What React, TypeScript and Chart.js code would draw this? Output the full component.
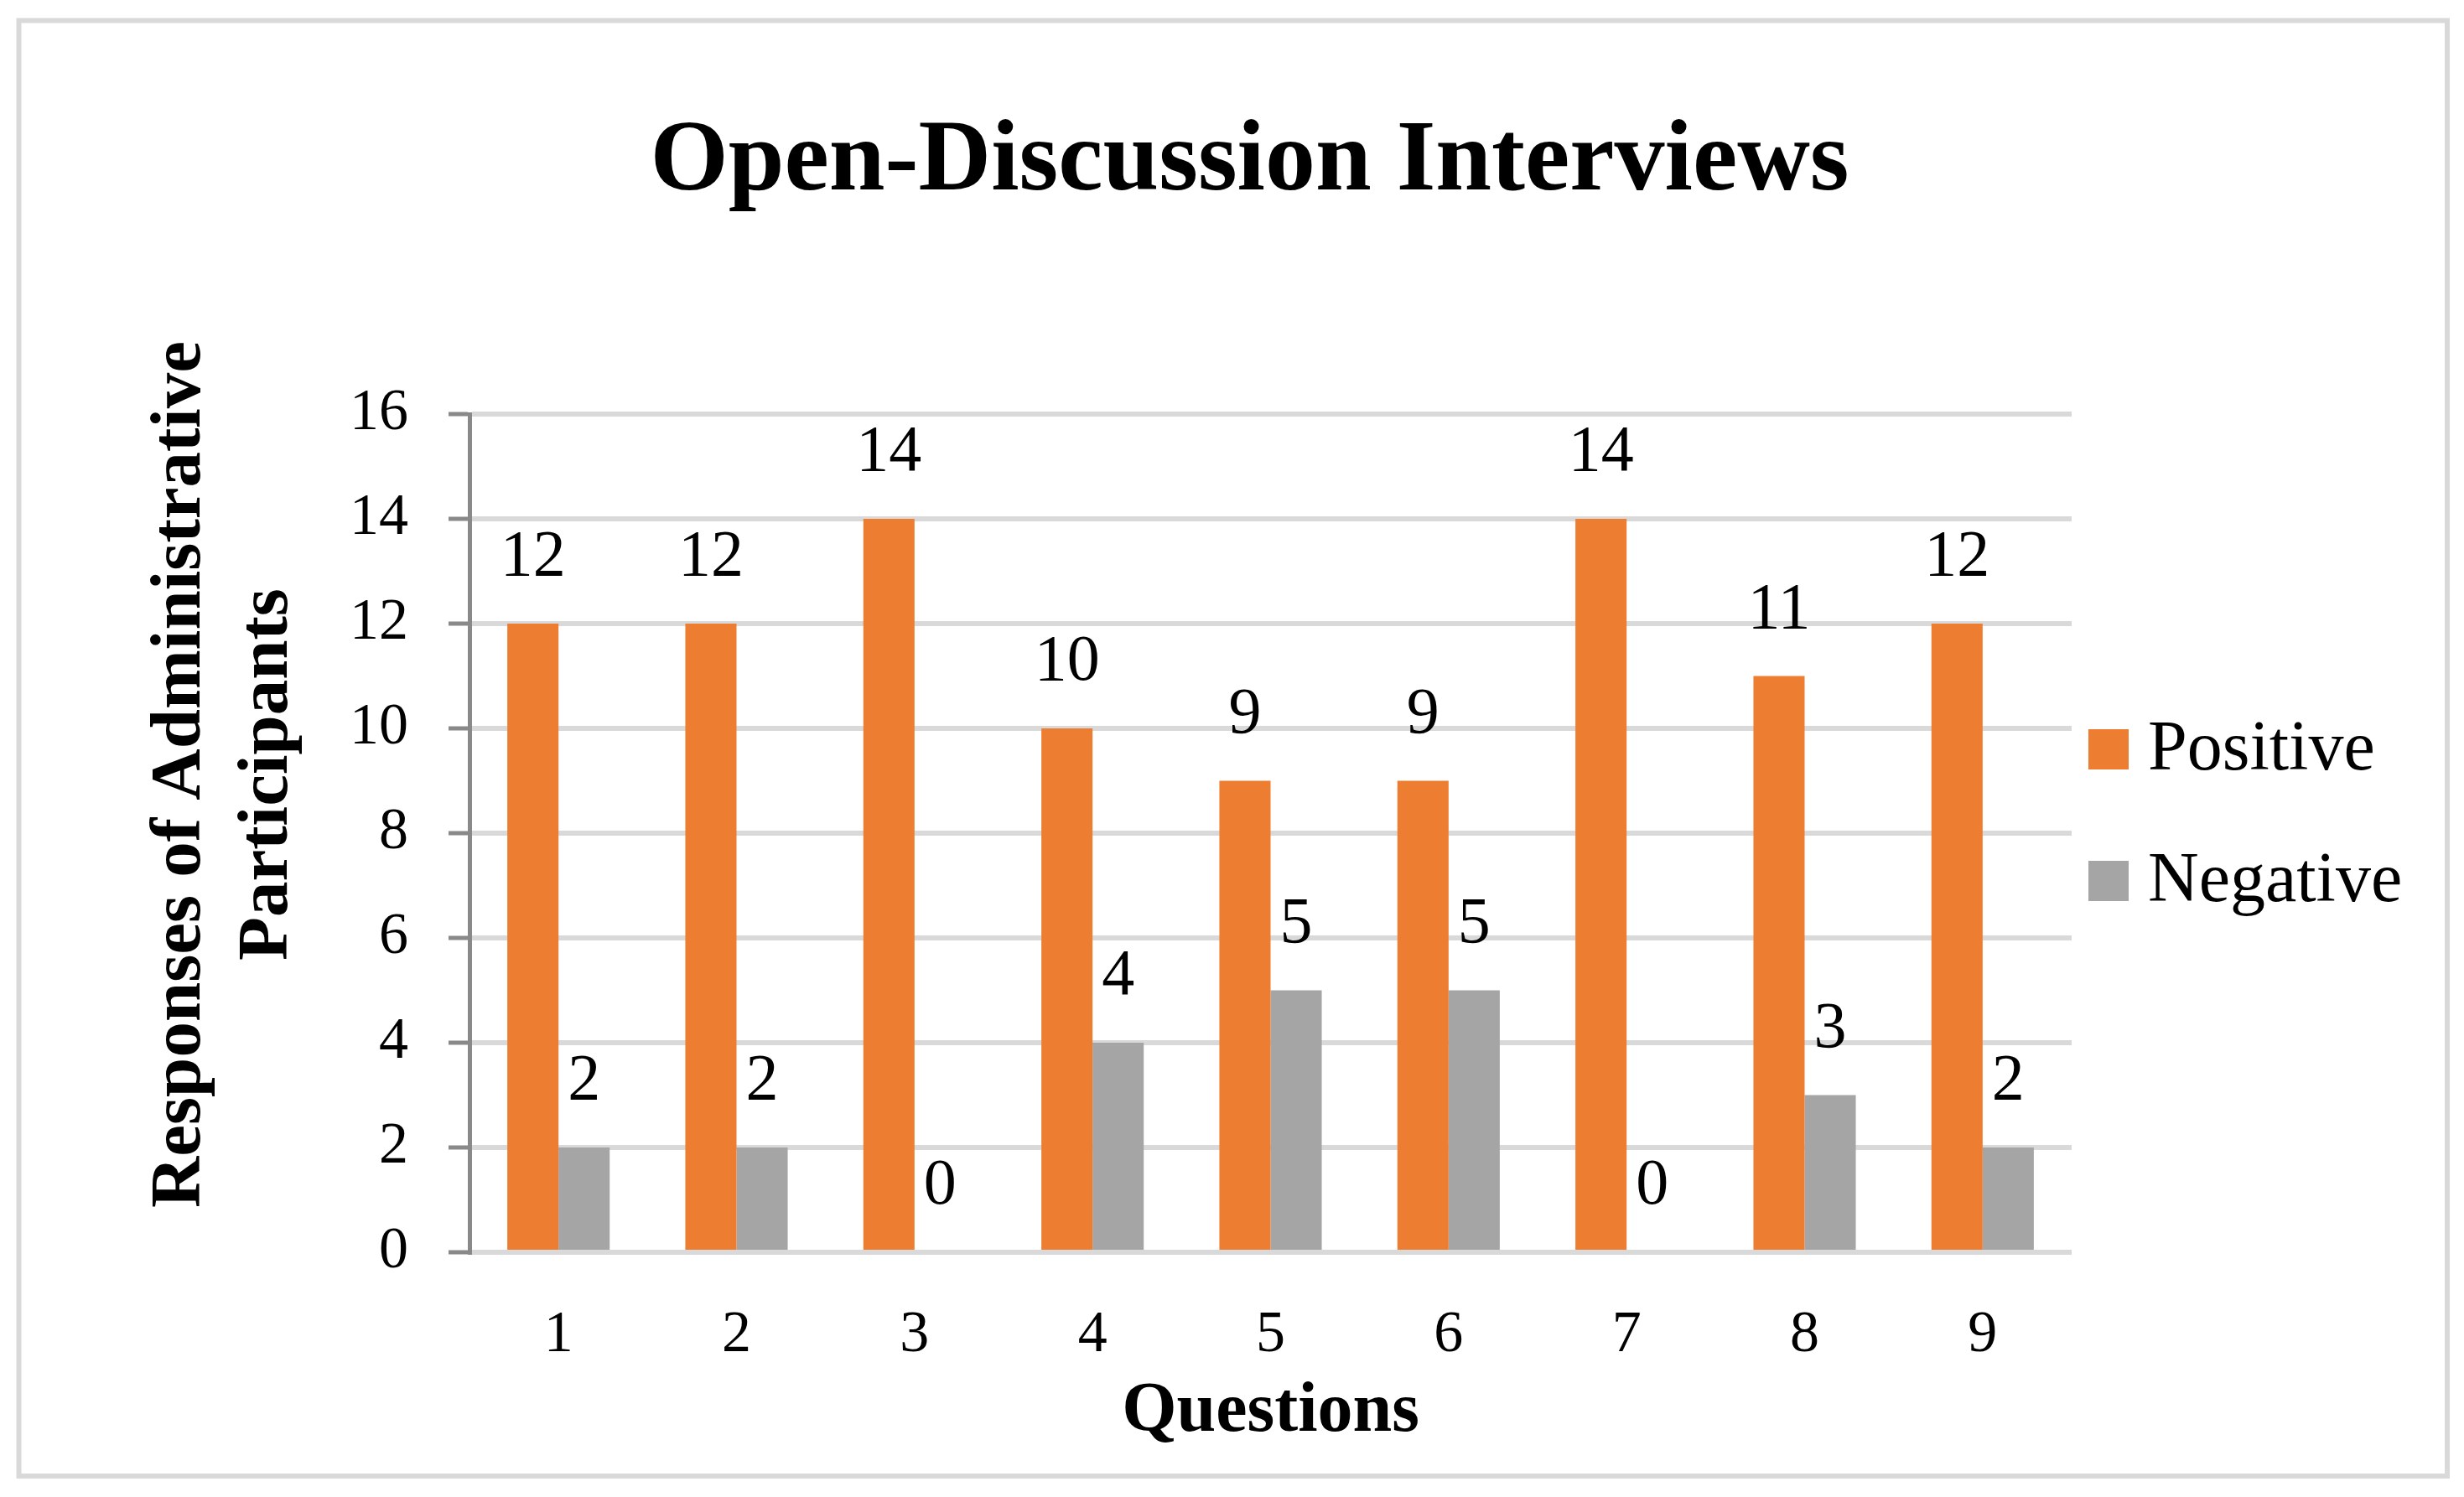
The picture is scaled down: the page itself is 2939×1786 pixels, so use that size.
import React, { useEffect, useRef } from 'react';
import { Chart, registerables } from 'chart.js';

Chart.register(...registerables);

// ---- data ----
const categories = ['1', '2', '3', '4', '5', '6', '7', '8', '9'];
const positiveValues = [12, 12, 14, 10, 9, 9, 14, 11, 12];
const negativeValues = [2, 2, 0, 4, 5, 5, 0, 3, 2];
const seriesNames = ['Positive', 'Negative'];
const seriesColors = ['#ED7D31', '#A5A5A5'];
const yMin = 0;
const yMax = 16;
const yStep = 2;
const chartTitle = 'Open-Discussion Interviews';
const xAxisTitle = 'Questions';
const yAxisTitleLines = ['Responses of Administrative', 'Participants'];

const FONT = "'Liberation Serif', 'Times New Roman', serif";

const framePlugin = {
  id: 'frame',
  beforeDraw(chart: any) {
    const { ctx, width, height } = chart;
    ctx.save();
    ctx.fillStyle = '#ffffff';
    ctx.fillRect(0, 0, width, height);
    ctx.strokeStyle = '#D9D9D9';
    ctx.lineWidth = 6;
    ctx.strokeRect(22.5, 24.5, width - 22.5 - 20, height - 24.5 - 25);
    ctx.restore();
  },
};

const titlePlugin = {
  id: 'mainTitle',
  afterDraw(chart: any) {
    const { ctx, chartArea } = chart;
    ctx.save();
    ctx.fillStyle = '#000';
    ctx.font = `bold 120px ${FONT}`;
    ctx.textAlign = 'center';
    ctx.textBaseline = 'alphabetic';
    ctx.fillText(chartTitle, (chartArea.left + chartArea.right) / 2 - 25, chartArea.top - 268);
    ctx.restore();
  },
};

const dataLabelPlugin = {
  id: 'dataLabels',
  afterDatasetsDraw(chart: any) {
    const { ctx } = chart;
    ctx.save();
    ctx.fillStyle = '#000';
    ctx.font = `78px ${FONT}`;
    ctx.textAlign = 'center';
    ctx.textBaseline = 'alphabetic';
    chart.data.datasets.forEach((ds: any, i: number) => {
      const meta = chart.getDatasetMeta(i);
      meta.data.forEach((el: any, j: number) => {
        ctx.fillText(String(ds.data[j]), el.x, el.y - 58);
      });
    });
    ctx.restore();
  },
};

const legendPlugin = {
  id: 'customLegend',
  afterDraw(chart: any) {
    const { ctx, chartArea } = chart;
    ctx.save();
    ctx.font = `84px ${FONT}`;
    ctx.textAlign = 'left';
    ctx.textBaseline = 'alphabetic';
    chart.data.datasets.forEach((ds: any, i: number) => {
      const baseline = chartArea.top + 424 + i * 157;
      ctx.fillStyle = ds.backgroundColor;
      ctx.fillRect(chartArea.right + 20, baseline - 48, 48, 48);
      ctx.fillStyle = '#000';
      ctx.fillText(ds.label, chartArea.right + 91, baseline);
    });
    ctx.restore();
  },
};

const yTitlePlugin = {
  id: 'yTitle',
  afterDraw(chart: any) {
    const { ctx, chartArea } = chart;
    const cy = (chartArea.top + chartArea.bottom) / 2 - 70;
    ctx.save();
    ctx.fillStyle = '#000';
    ctx.font = `bold 85px ${FONT}`;
    ctx.textAlign = 'center';
    ctx.textBaseline = 'alphabetic';
    yAxisTitleLines.forEach((line, i) => {
      ctx.save();
      ctx.translate(chartArea.left - 322 + i * 104, cy);
      ctx.rotate(-Math.PI / 2);
      ctx.fillText(line, 0, 0);
      ctx.restore();
    });
    ctx.restore();
  },
};

export default function App() {
  const canvasRef = useRef<HTMLCanvasElement | null>(null);

  useEffect(() => {
    if (!canvasRef.current) return;
    Chart.defaults.font.family = FONT;
    Chart.defaults.color = '#000';
    const chart = new Chart(canvasRef.current, {
      type: 'bar',
      data: {
        labels: categories,
        datasets: [
          {
            label: seriesNames[0],
            data: positiveValues,
            backgroundColor: seriesColors[0],
            borderWidth: 0,
            barPercentage: 1,
            categoryPercentage: 0.575,
          },
          {
            label: seriesNames[1],
            data: negativeValues,
            backgroundColor: seriesColors[1],
            borderWidth: 0,
            barPercentage: 1,
            categoryPercentage: 0.575,
          },
        ],
      },
      options: {
        responsive: false,
        maintainAspectRatio: false,
        animation: false,
        devicePixelRatio: 1,
        events: [],
        layout: { padding: { left: 369, right: 468, top: 494, bottom: 45 } },
        plugins: {
          legend: { display: false },
          tooltip: { enabled: false },
          title: { display: false },
        },
        scales: {
          x: {
            grid: { display: false, drawTicks: false },
            border: { display: false },
            ticks: {
              color: '#000',
              font: { family: FONT, size: 70, lineHeight: 1.2 },
              padding: 58,
            },
            title: {
              display: true,
              text: xAxisTitle,
              color: '#000',
              font: { family: FONT, size: 84, weight: 'bold', lineHeight: 1 },
              padding: { top: -51, bottom: 14 },
            },
          },
          y: {
            min: yMin,
            max: yMax,
            ticks: {
              stepSize: yStep,
              color: '#000',
              font: { family: FONT, size: 70, lineHeight: 1.2 },
              padding: 48,
            },
            grid: {
              color: '#D9D9D9',
              lineWidth: 6,
              tickColor: '#898989',
              tickWidth: 5,
              tickLength: 25,
            },
            border: { color: '#898989', width: 5 },
          },
        },
      } as any,
      plugins: [framePlugin, titlePlugin, dataLabelPlugin, legendPlugin, yTitlePlugin],
    });
    return () => chart.destroy();
  }, []);

  return (
    <div style={{ position: 'fixed', left: 0, top: 0, width: 2939, height: 1786, background: '#fff' }}>
      <canvas ref={canvasRef} width={2939} height={1786} style={{ display: 'block', width: 2939, height: 1786 }} />
    </div>
  );
}
